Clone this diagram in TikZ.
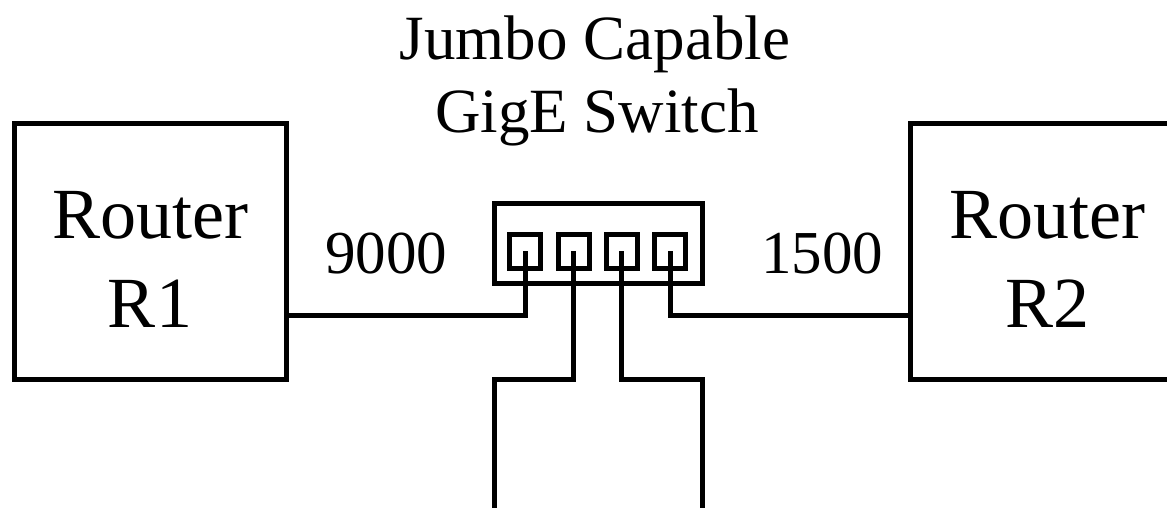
\documentclass[tikz,border=0pt]{standalone}
\usepackage{fontspec}
\setmainfont{Liberation Serif}
\begin{document}
\begin{tikzpicture}[x=1pt,y=-1pt]
\tikzset{
  wire/.style={draw, line width=5pt},
  frame/.style={draw, line width=5pt, rectangle, inner sep=0pt, outer sep=0pt},
  port/.style={frame, minimum width=31pt, minimum height=34pt},
  lbl/.style={inner sep=0pt, anchor=base},
  big/.style={lbl, font=\fontsize{72}{72}\selectfont},
  mid/.style={lbl, font=\fontsize{63}{63}\selectfont},
  small/.style={lbl, font=\fontsize{61}{61}\selectfont},
}
\useasboundingbox (0,0) rectangle (1167,508);
% routers
\node[frame, minimum width=272.5pt, minimum height=255pt] (r1) at (150.25,251.5) {};
\node[frame, minimum width=272.5pt, minimum height=255pt] (r2) at (1046.25,251.5) {};
% switch
\node[frame, minimum width=208.5pt, minimum height=79.5pt] (sw) at (598.25,243.25) {};
\node[port] (p1) at (525,251.3) {};
\node[port] (p2) at (573.5,251.3) {};
\node[port] (p3) at (621.5,251.3) {};
\node[port] (p4) at (670,251.3) {};
% helper coordinates
\coordinate (yu) at (0,315);
\coordinate (yl) at (0,379);
\coordinate (bot) at (0,508);
% wires
\draw[wire] (p1.center) |- (r1.east |- yu);
\draw[wire] (p4.center) |- (r2.west |- yu);
\draw[wire] (p2.center) |- (sw.west |- yl) -- (sw.west |- bot);
\draw[wire] (p3.center) |- (sw.east |- yl) -- (sw.east |- bot);
% texts
\node[mid] (title1) at (595,60) {Jumbo Capable};
\node[mid] (title2) at (597,132) {GigE Switch};
\node[big] (r1a) at (150,238) {Router};
\node[big] (r1b) at (150,327) {R1};
\node[big] (r2a) at (1047,238) {Router};
\node[big] (r2b) at (1047,327) {R2};
\node[small] (l9000) at (386,273) {9000};
\node[small] (l1500) at (822,273) {1500};
\end{tikzpicture}
\end{document}
